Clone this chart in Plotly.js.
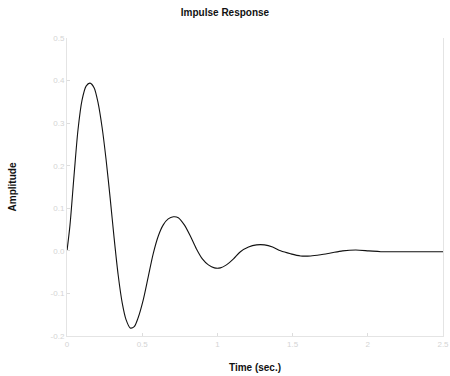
<!DOCTYPE html>
<html>
<head>
<meta charset="utf-8">
<script src="https://cdn.plot.ly/plotly-3.0.1.min.js"></script>
<style>html,body{margin:0;padding:0;background:#fff;}#chart{width:450px;height:376px;}</style>
</head>
<body>
<div id="chart"></div>
<script>
var timeSec = [0, 0.02, 0.047, 0.073, 0.1, 0.127, 0.153, 0.18, 0.207, 0.233, 0.26, 0.287, 0.313, 0.34, 0.367, 0.393, 0.42, 0.447, 0.473, 0.507, 0.54, 0.573, 0.607, 0.64, 0.673, 0.707, 0.74, 0.78, 0.82, 0.86, 0.9, 0.94, 0.98, 1.02, 1.06, 1.107, 1.153, 1.207, 1.26, 1.313, 1.367, 1.42, 1.487, 1.553, 1.62, 1.687, 1.753, 1.833, 1.92, 2.007, 2.087, 2.22, 2.353, 2.5];
var amplitude = [0, 0.061, 0.178, 0.284, 0.354, 0.387, 0.394, 0.383, 0.347, 0.291, 0.214, 0.124, 0.031, -0.056, -0.122, -0.162, -0.181, -0.178, -0.157, -0.115, -0.061, -0.007, 0.035, 0.061, 0.075, 0.080, 0.078, 0.061, 0.035, 0.005, -0.019, -0.033, -0.040, -0.040, -0.033, -0.019, -0.002, 0.009, 0.014, 0.014, 0.009, 0.0, -0.007, -0.012, -0.012, -0.009, -0.005, 0.0, 0.002, 0.0, -0.002, -0.002, -0.002, -0.002];
var xTicks = [0, 0.5, 1, 1.5, 2, 2.5];
var yTicks = [-0.2, -0.1, 0, 0.1, 0.2, 0.3, 0.4, 0.5];

var trace = {
  x: timeSec, y: amplitude, type: 'scatter', mode: 'lines',
  line: {color: '#111', width: 1.1, shape: 'spline', smoothing: 0.8},
  hoverinfo: 'none'
};
var layout = {
  width: 450, height: 376,
  margin: {l: 67, r: 7, t: 38, b: 40},
  paper_bgcolor: '#fff', plot_bgcolor: '#fff',
  showlegend: false,
  font: {family: 'Liberation Sans, Arial, sans-serif', color: '#000'},
  title: {text: '<b>Impulse Response</b>', x: 0.5, xanchor: 'center', y: 0.975, yanchor: 'top',
          font: {size: 10, color: '#111'}},
  xaxis: {
    range: [0, 2.5], tickvals: xTicks, ticktext: xTicks.map(String),
    showgrid: false, zeroline: false, showline: true, linecolor: '#e4e4e4', linewidth: 1,
    ticks: 'inside', ticklen: 3, tickcolor: '#ddd',
    tickfont: {size: 8, color: '#d4d4d4'},
    title: {text: '<b>Time (sec.)</b>', font: {size: 10, color: '#111'}, standoff: 16}
  },
  yaxis: {
    range: [-0.2, 0.5], tickvals: yTicks, ticktext: yTicks.map(function(v){return v.toFixed(1);}),
    showgrid: false, zeroline: false, showline: true, linecolor: '#e4e4e4', linewidth: 1, mirror: true,
    ticks: 'inside', ticklen: 3, tickcolor: '#ddd',
    tickfont: {size: 8, color: '#d4d4d4'},
    title: {text: '<b>Amplitude</b>', font: {size: 10, color: '#111'}, standoff: 32}
  }
};
Plotly.newPlot('chart', [trace], layout, {staticPlot: true, displayModeBar: false});
</script>
</body>
</html>
